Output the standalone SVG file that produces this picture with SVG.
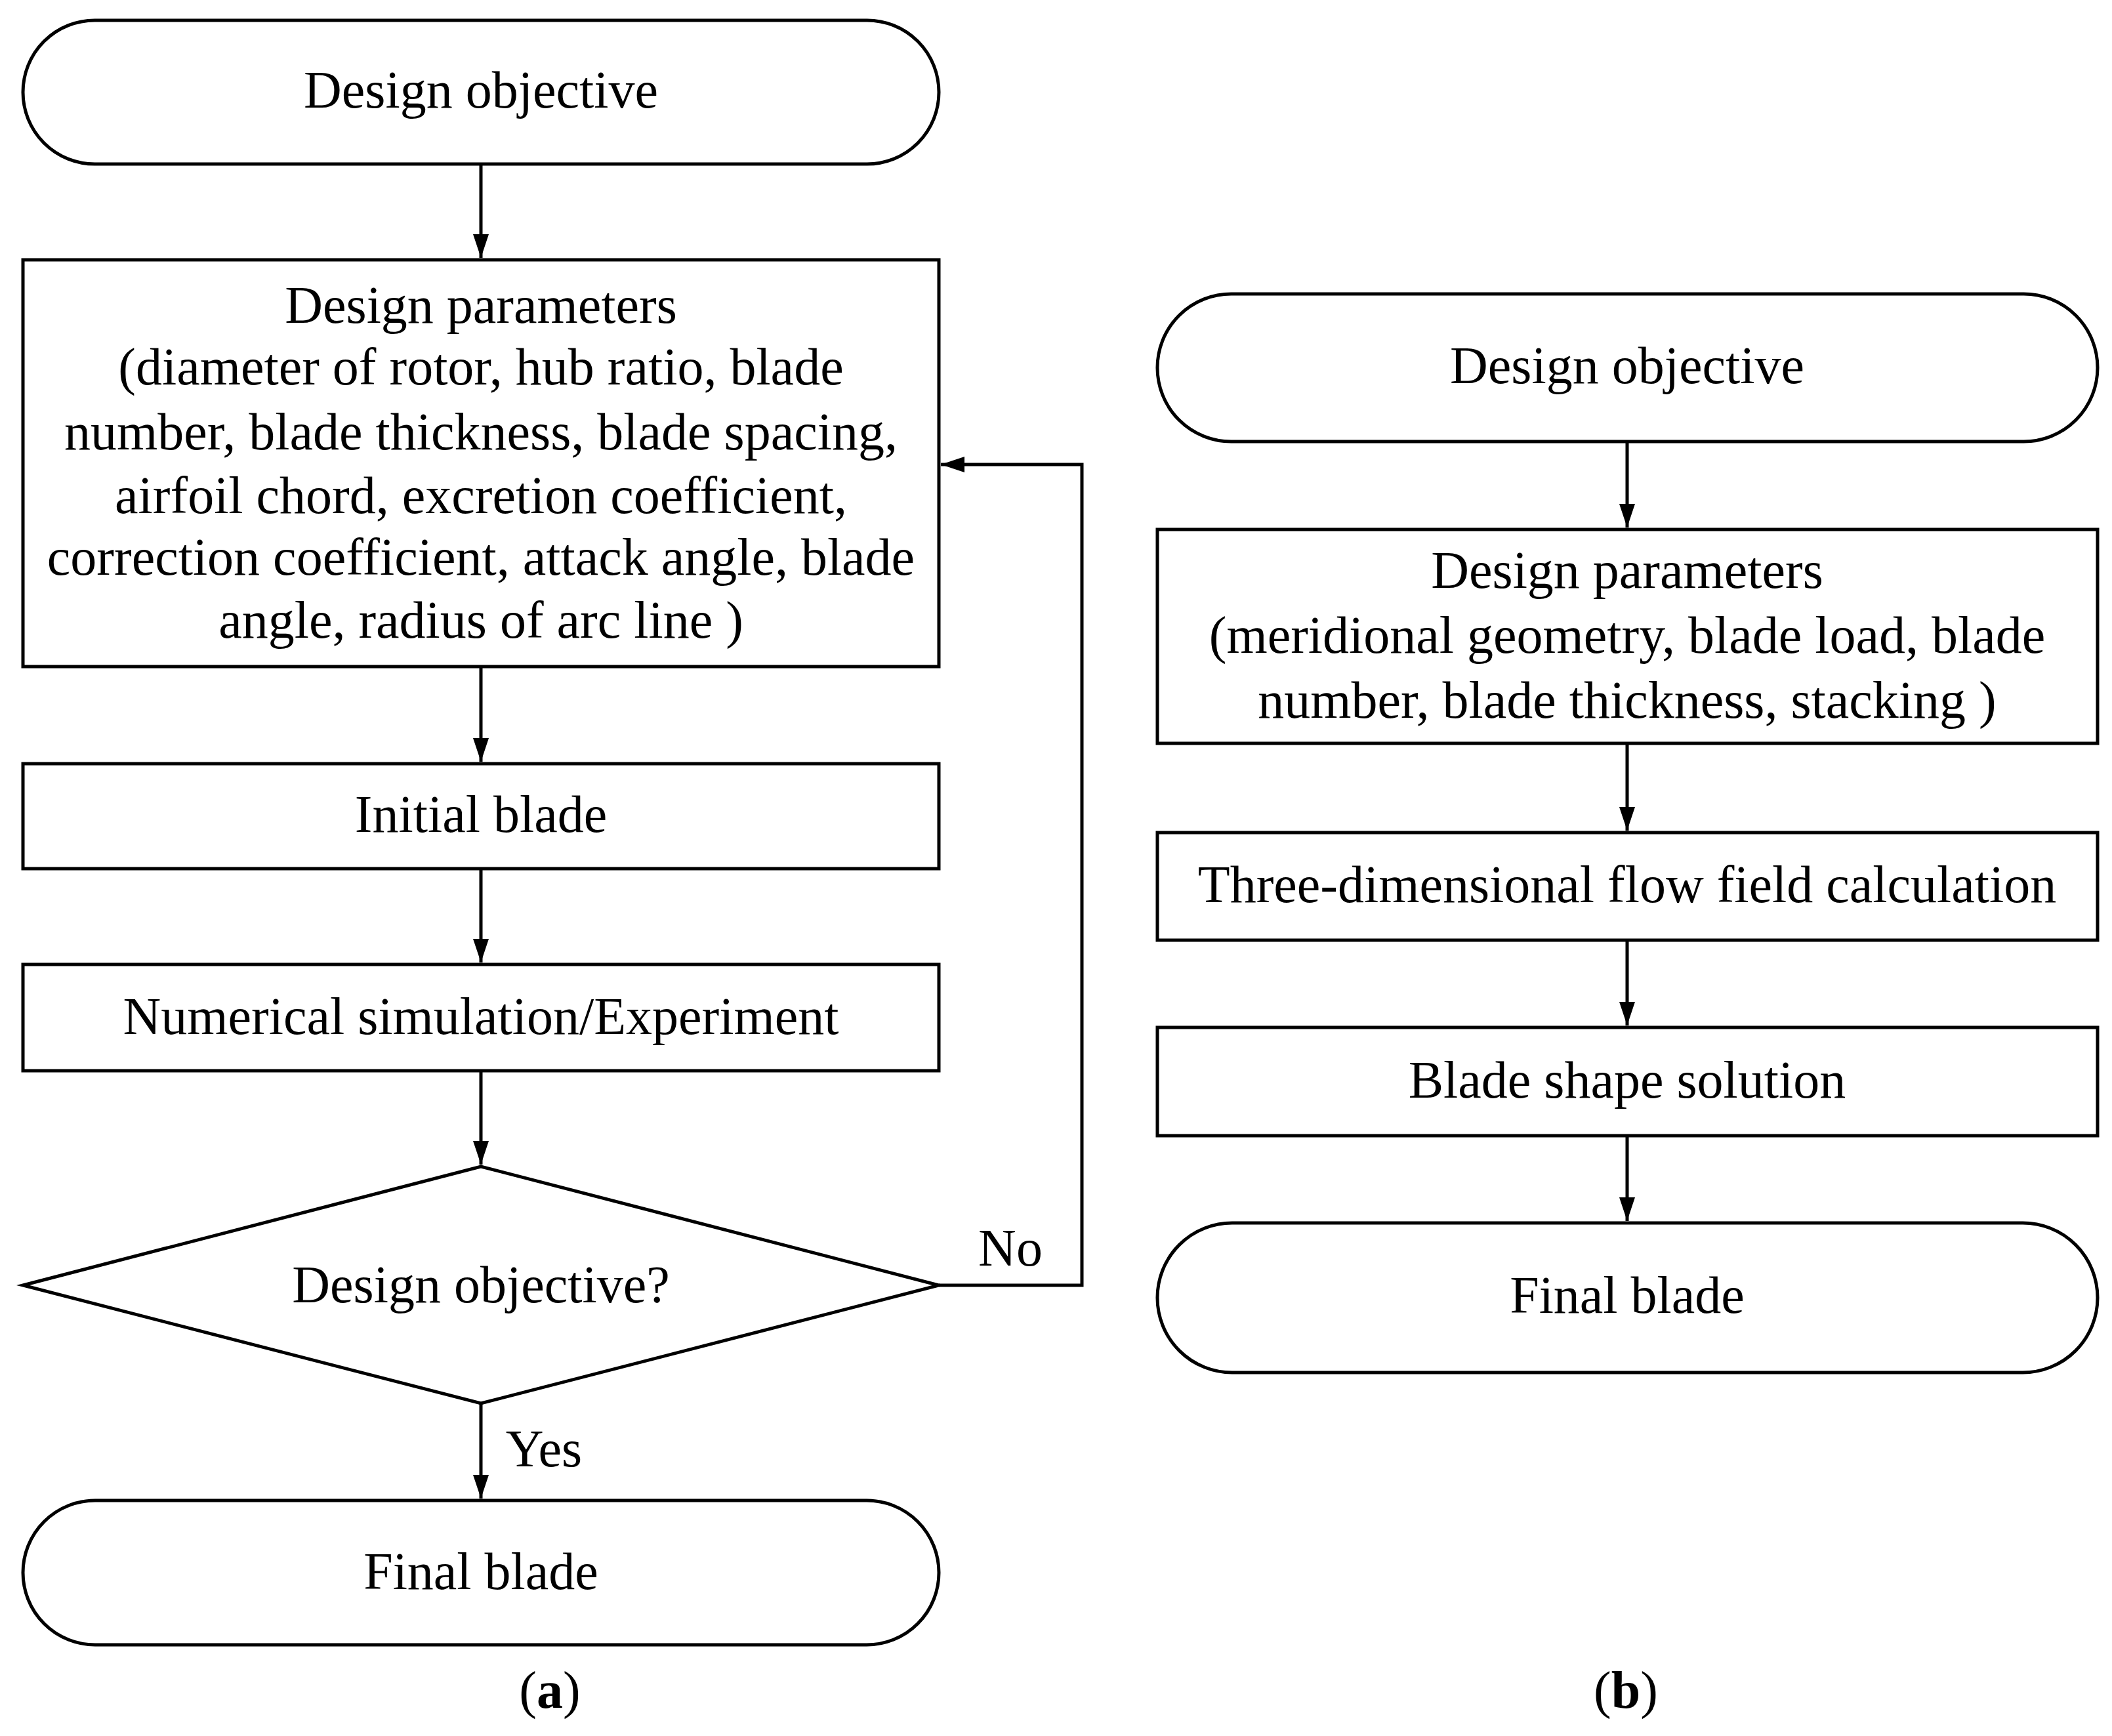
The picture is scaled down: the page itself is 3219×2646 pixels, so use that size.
<svg xmlns="http://www.w3.org/2000/svg" width="3219" height="2646" viewBox="0 0 3219 2646">
<style>
.s{fill:#fff;stroke:#000;stroke-width:5}
.t{font-family:"Liberation Serif",serif;font-size:80px;text-anchor:middle;fill:#000}
.c{fill:none;stroke:#000;stroke-width:5}
</style>
<defs><marker id="m" markerWidth="36" markerHeight="24" refX="36" refY="12" orient="auto" markerUnits="userSpaceOnUse" viewBox="0 0 36 24"><path d="M0,0L36,12L0,24z" fill="#000"/></marker></defs>
<rect width="3219" height="2646" fill="#fff"/>
<g id="connectors">
<path class="c" d="M733,250V393" marker-end="url(#m)"/>
<path class="c" d="M733,1016V1161" marker-end="url(#m)"/>
<path class="c" d="M733,1324V1467" marker-end="url(#m)"/>
<path class="c" d="M733,1632V1775" marker-end="url(#m)"/>
<path class="c" d="M733,2139V2284" marker-end="url(#m)"/>
<path class="c" d="M1431,1959H1649V708H1434" marker-end="url(#m)"/>
<path class="c" d="M2480,673V804" marker-end="url(#m)"/>
<path class="c" d="M2480,1133V1266" marker-end="url(#m)"/>
<path class="c" d="M2480,1433V1563" marker-end="url(#m)"/>
<path class="c" d="M2480,1731V1861" marker-end="url(#m)"/>
<text class="t" x="1540" y="1929">No</text>
<text class="t" x="829" y="2235">Yes</text>
</g>
<g id="a1"><rect class="s" x="35" y="31" width="1396" height="219" rx="109.5"/><text class="t" x="733" y="164">Design objective</text></g>
<g id="a2"><rect class="s" x="35" y="396" width="1396" height="620"/><text class="t"><tspan x="733" y="492">Design parameters</tspan><tspan x="733" y="586">(diameter of rotor, hub ratio, blade</tspan><tspan x="733" y="685">number, blade thickness, blade spacing,</tspan><tspan x="733" y="782">airfoil chord, excretion coefficient,</tspan><tspan x="733" y="876">correction coefficient, attack angle, blade</tspan><tspan x="733" y="972">angle, radius of arc line )</tspan></text></g>
<g id="a3"><rect class="s" x="35" y="1164" width="1396" height="160"/><text class="t" x="733" y="1268">Initial blade</text></g>
<g id="a4"><rect class="s" x="35" y="1470" width="1396" height="162"/><text class="t" x="733" y="1576">Numerical simulation/Experiment</text></g>
<g id="a5"><path class="s" d="M35,1959L733,1778L1431,1959L733,2139z"/><text class="t" x="733" y="1985">Design objective?</text></g>
<g id="a6"><rect class="s" x="35" y="2287" width="1396" height="220" rx="110"/><text class="t" x="733" y="2422">Final blade</text></g>
<g id="b1"><rect class="s" x="1764" y="448" width="1433" height="225" rx="112.5"/><text class="t" x="2480" y="584">Design objective</text></g>
<g id="b2"><rect class="s" x="1764" y="807" width="1433" height="326"/><text class="t"><tspan x="2480" y="896">Design parameters</tspan><tspan x="2480" y="995">(meridional geometry, blade load, blade</tspan><tspan x="2480" y="1094">number, blade thickness, stacking )</tspan></text></g>
<g id="b3"><rect class="s" x="1764" y="1269" width="1433" height="164"/><text class="t" x="2480" y="1375">Three-dimensional flow field calculation</text></g>
<g id="b4"><rect class="s" x="1764" y="1566" width="1433" height="165"/><text class="t" x="2480" y="1673">Blade shape solution</text></g>
<g id="b5"><rect class="s" x="1764" y="1864" width="1433" height="228" rx="114"/><text class="t" x="2480" y="2001">Final blade</text></g>
<text class="t" x="838" y="2603">(<tspan font-weight="bold">a</tspan>)</text>
<text class="t" x="2478" y="2603">(<tspan font-weight="bold">b</tspan>)</text>
</svg>
